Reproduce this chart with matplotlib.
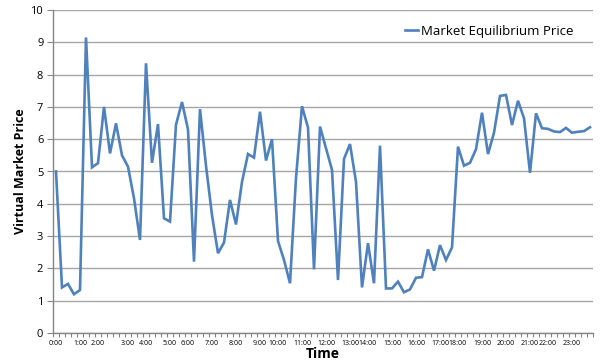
import matplotlib
matplotlib.use("Agg")
import matplotlib.pyplot as plt
import numpy as np

# Market equilibrium price sampled through the day
prices = [
    5.00, 1.41, 1.52, 1.20, 1.33, 9.15, 5.13, 5.26, 7.00, 5.56,
    6.49, 5.50, 5.15, 4.17, 2.88, 8.35, 5.27, 6.47, 3.55, 3.45,
    6.45, 7.15, 6.30, 2.21, 6.93, 5.18, 3.65, 2.47, 2.80, 4.12,
    3.36, 4.68, 5.54, 5.43, 6.85, 5.34, 6.00, 2.85, 2.26, 1.54,
    4.80, 7.02, 6.36, 1.97, 6.39, 5.72, 5.05, 1.64, 5.39, 5.85,
    4.68, 1.41, 2.78, 1.54, 5.80, 1.38, 1.38, 1.59, 1.26, 1.35,
    1.71, 1.73, 2.59, 1.93, 2.72, 2.26, 2.65, 5.77, 5.18, 5.27,
    5.69, 6.82, 5.54, 6.20, 7.34, 7.37, 6.44, 7.19, 6.65, 4.96,
    6.80, 6.34, 6.32, 6.24, 6.22, 6.35, 6.20, 6.23, 6.25, 6.37,
]

# Hour labels and the sample index at which each hour begins
hour_labels = ["0:00", "1:00", "2:00", "3:00", "4:00", "5:00", "6:00", "7:00",
               "8:00", "9:00", "10:00", "11:00", "12:00", "13:00", "14:00",
               "15:00", "16:00", "17:00", "18:00", "19:00", "20:00", "21:00",
               "22:00", "23:00"]
hour_positions = [0, 4, 7, 12, 15, 19, 22, 26, 30, 34, 37, 41, 45, 49, 52,
                  56, 60, 64, 67, 71, 75, 79, 82, 86]

y_ticks = list(range(0, 11))

plt.rcParams["font.family"] = ["Open Sans", "DejaVu Sans"]

fig = plt.figure(figsize=(6.0, 3.62), dpi=100)
ax = fig.add_axes([53 / 600, 1 - 333 / 362, 540 / 600, 323 / 362])

x = np.arange(len(prices))
ax.plot(x, prices, color="#4F81BD", linewidth=1.9,
        label="Market Equilibrium Price", solid_joinstyle="miter")

ax.set_xlim(-0.5, len(prices) - 0.5)
ax.set_ylim(0, 10)

# Gridlines
ax.set_yticks(y_ticks)
ax.yaxis.grid(True, color="#A6A6A6", linewidth=1.0)
ax.set_axisbelow(True)

# Spines
for side in ("top", "right"):
    ax.spines[side].set_visible(False)
for side in ("left", "bottom"):
    ax.spines[side].set_color("#868686")
    ax.spines[side].set_linewidth(1.0)

# Category ticks between samples, labels on hour starts
ax.set_xticks(np.arange(-0.5, len(prices), 1.0), minor=True)
ax.set_xticks(hour_positions)
ax.set_xticklabels(hour_labels, fontsize=5)
ax.tick_params(axis="x", which="major", length=0, pad=5)
ax.tick_params(axis="x", which="minor", length=3, color="#868686", width=0.8)
ax.tick_params(axis="y", length=4, color="#868686", labelsize=8, pad=3)

ax.set_ylabel("Virtual Market Price", fontsize=9, fontweight="bold")
ax.yaxis.set_label_coords(-0.048, 0.5)
ax.set_xlabel("Time", fontsize=10, fontweight="bold", labelpad=0)

leg = ax.legend(loc="upper right", frameon=False, fontsize=9.5,
                handlelength=1.0, handletextpad=0.2,
                bbox_to_anchor=(0.985, 0.99))

fig.savefig("out.png", dpi=100)
